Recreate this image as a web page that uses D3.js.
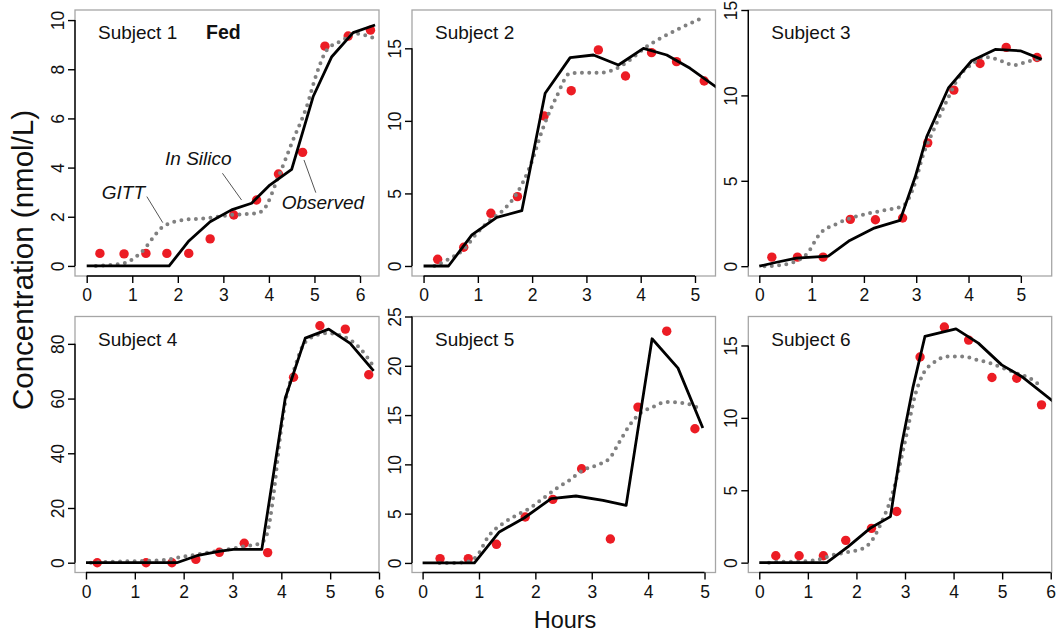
<!DOCTYPE html>
<html>
<head>
<meta charset="utf-8">
<script src="https://cdn.jsdelivr.net/npm/d3@7"></script>
<style>
  body { margin: 0; background: #fff; }
  svg text { font-family: "Liberation Sans", Arial, Helvetica, sans-serif; fill: #111; }
</style>
</head>
<body>
<script>
// Subjects and axis setup
const subjects = ["Subject 1", "Subject 2", "Subject 3", "Subject 4", "Subject 5", "Subject 6"];
const xTicks = [[0,1,2,3,4,5,6],[0,1,2,3,4,5],[0,1,2,3,4,5],[0,1,2,3,4,5,6],[0,1,2,3,4,5],[0,1,2,3,4,5,6]];
const yTicks = [[0,2,4,6,8,10],[0,5,10,15],[0,5,10,15],[0,20,40,60,80],[0,5,10,15,20,25],[0,5,10,15]];
const xDomains = [[-0.257,6.417],[-0.213,5.378],[-0.21,5.59],[-0.225,6.0],[-0.188,5.195],[-0.226,6.02]];
const yDomains = [[-0.41,10.41],[-0.69,17.64],[-0.575,15.0],[-3.58,90],[-0.97,25.0],[-0.68,17.0]];

// Observed concentrations [hours, nmol/L]
const obs1 = [[0.29,0.51],[0.82,0.49],[1.30,0.51],[1.76,0.51],[2.24,0.51],[2.71,1.10],[3.23,2.07],[3.73,2.68],[4.21,3.74],[4.74,4.62],[5.23,8.94],[5.74,9.35],[6.23,9.59]];
const obs2 = [[0.26,0.46],[0.74,1.29],[1.24,3.63],[1.73,4.78],[2.22,10.34],[2.72,12.08],[3.22,14.89],[3.72,13.09],[4.20,14.70],[4.66,14.08],[5.17,12.75]];
const obs3 = [[0.24,0.53],[0.73,0.53],[1.22,0.53],[1.74,2.74],[2.22,2.72],[2.74,2.82],[3.22,7.22],[3.72,10.31],[4.22,11.87],[4.72,12.81],[5.31,12.22]];
const obs4 = [[0.23,0],[1.23,0],[1.76,0],[2.25,1.2],[2.73,3.8],[3.24,7.1],[3.72,3.7],[4.25,67.8],[4.79,86.6],[5.31,85.4],[5.79,68.7]];
const obs5 = [[0.31,0.44],[0.81,0.44],[1.31,1.89],[1.82,4.66],[2.31,6.45],[2.82,9.56],[3.33,2.43],[3.82,15.81],[4.33,23.51],[4.83,13.61]];
const obs6 = [[0.34,0.48],[0.82,0.48],[1.32,0.48],[1.78,1.54],[2.31,2.37],[2.83,3.53],[3.31,14.20],[3.81,16.27],[4.31,15.37],[4.79,12.79],[5.30,12.74],[5.81,10.90]];

// In Silico model (solid black)
const silico1 = [[0,0],[1.81,0],[2.23,0.99],[2.71,1.80],[3.18,2.28],[3.62,2.55],[4.02,3.29],[4.50,3.93],[4.97,6.88],[5.38,8.51],[5.85,9.49],[6.33,9.80]];
const silico2 = [[0,0],[0.46,0],[0.89,2.14],[1.35,3.35],[1.81,3.81],[2.24,11.90],[2.70,14.36],[3.13,14.54],[3.59,13.85],[4.05,15.0],[4.48,14.54],[4.91,13.62],[5.40,12.31]];
const silico3 = [[0,0],[0.33,0.23],[0.71,0.47],[1.32,0.59],[1.73,1.51],[2.18,2.21],[2.69,2.68],[2.98,5.22],[3.20,7.57],[3.62,10.46],[4.06,12.03],[4.51,12.69],[4.99,12.61],[5.40,12.11]];
const silico4 = [[0,0],[1.86,0],[2.27,2.56],[2.75,4.27],[3.02,4.88],[3.60,4.88],[4.08,60.1],[4.49,82.1],[4.97,85.4],[5.41,80.2],[5.89,70.1]];
const silico5 = [[0,0],[0.92,0],[1.36,3.14],[1.80,4.56],[2.28,6.52],[2.72,6.79],[3.20,6.35],[3.61,5.84],[4.07,22.74],[4.53,19.76],[4.97,13.68]];
const silico6 = [[0,0],[1.39,0],[1.83,1.11],[2.28,2.37],[2.70,3.18],[2.93,8.13],[3.16,12.05],[3.41,15.62],[4.05,16.15],[4.51,15.16],[4.99,13.66],[5.40,12.86],[6.05,11.13]];

// GITT model (gray dotted)
const gitt1 = [[0.2,0],[0.44,0.03],[0.82,0.11],[1.17,0.51],[1.68,1.60],[2.12,1.87],[2.63,1.94],[3.15,2.07],[3.73,2.14],[3.88,2.28],[4.21,3.63],[4.53,5.12],[4.83,6.48],[5.05,7.83],[5.27,8.78],[5.63,9.19],[5.89,9.46],[6.07,9.40],[6.33,9.25]];
const gitt2 = [[0.2,0],[0.25,0.07],[0.49,0.53],[0.74,1.15],[0.98,2.25],[1.23,3.17],[1.47,3.86],[1.72,5.01],[1.96,6.85],[2.21,9.60],[2.45,11.67],[2.70,13.28],[2.94,13.32],[3.25,13.32],[3.50,13.51],[3.80,14.20],[4.11,15.12],[4.42,15.80],[4.72,16.38],[5.09,17.02]];
const gitt3 = [[0.1,0],[0.33,0.04],[0.65,0.23],[0.91,0.72],[1.16,1.90],[1.48,2.48],[1.80,2.87],[2.12,3.11],[2.44,3.30],[2.76,3.56],[2.95,4.63],[3.14,6.59],[3.33,7.96],[3.59,9.72],[3.84,11.19],[4.09,11.87],[4.29,12.26],[4.48,12.16],[4.67,11.97],[4.86,11.77],[5.11,11.97],[5.37,12.16]];
const gitt4 = [[0.1,0],[0.56,0.37],[1.11,0.61],[1.58,0.98],[1.99,2.2],[2.40,3.4],[2.81,4.6],[3.22,5.9],[3.57,7.1],[3.70,10.1],[3.84,24.8],[3.98,46.7],[4.11,61.3],[4.25,69.9],[4.45,79.6],[4.66,82.7],[4.93,83.9],[5.27,82.7],[5.61,78.4],[5.89,71.7]];
const gitt5 = [[0.3,0],[0.53,0],[0.77,0.10],[0.95,0.61],[1.18,2.80],[1.42,3.99],[1.66,4.83],[1.89,5.51],[2.13,6.52],[2.37,7.53],[2.60,8.38],[2.84,9.39],[3.08,9.90],[3.31,10.57],[3.49,12.26],[3.67,13.95],[3.85,15.14],[4.08,15.81],[4.32,16.32],[4.56,16.25],[4.79,15.98],[4.91,15.64]];
const gitt6 = [[0.2,0],[0.36,0.07],[0.77,0.07],[1.18,0.18],[1.52,0.53],[1.87,0.76],[2.14,0.99],[2.35,1.68],[2.52,2.83],[2.69,4.22],[2.86,6.29],[3.03,8.82],[3.21,11.59],[3.38,13.08],[3.58,13.78],[3.86,14.24],[4.20,14.24],[4.48,14.01],[4.75,13.78],[5.02,13.43],[5.30,13.08],[5.57,12.74],[5.78,12.24]];

const obsData = [obs1, obs2, obs3, obs4, obs5, obs6];
const silicoData = [silico1, silico2, silico3, silico4, silico5, silico6];
const gittData = [gitt1, gitt2, gitt3, gitt4, gitt5, gitt6];

// Panel 1 annotations: text anchor and leader line, in data units
const notes = [
  {label: "GITT", at: [0.33, 2.71], from: [1.32, 2.82], to: [1.67, 1.76]},
  {label: "In Silico", at: [1.72, 4.10], from: [2.98, 3.77], to: [3.40, 2.68]},
  {label: "Observed", at: [4.28, 2.30], from: [4.77, 4.31], to: [5.03, 2.98]}
];

// Layout of the 3x2 grid (pixels)
const colL = [75, 412, 748.3], colR = [379, 715.5, 1051.7];
const rowT = [10, 316.5], rowB = [276, 572.5];

const svg = d3.select("body").append("svg")
    .attr("width", 1056)
    .attr("height", 636);

subjects.forEach(function(name, i) {
    let c = i % 3, r = Math.floor(i / 3);
    let L = colL[c], R = colR[c], T = rowT[r], B = rowB[r];

    let x = d3.scaleLinear().domain(xDomains[i]).range([L, R]);
    let y = d3.scaleLinear().domain(yDomains[i]).range([B, T]);

    let g = svg.append("g");

    g.append("clipPath").attr("id", "clip" + i)
      .append("rect")
        .attr("x", L).attr("y", T)
        .attr("width", R - L).attr("height", B - T);

    // light gray box
    g.append("rect")
        .attr("x", L).attr("y", T)
        .attr("width", R - L).attr("height", B - T)
        .attr("fill", "none")
        .attr("stroke", "#a6a6a6")
        .attr("stroke-width", 1.3);

    // x axis, line only between first and last tick (R style)
    let xt = xTicks[i];
    let xa = g.append("g")
        .attr("transform", "translate(0," + B + ")")
        .call(d3.axisBottom(x).tickValues(xt).tickSize(7).tickSizeOuter(0).tickPadding(6).tickFormat(d3.format("d")));
    xa.select(".domain").attr("d", "M" + x(xt[0]) + ",0H" + x(xt[xt.length - 1]));
    xa.selectAll("path,line").attr("stroke", "#000").attr("stroke-width", 1.4);
    xa.selectAll("text").style("font-size", "17.5px").attr("fill", "#111");

    let yt = yTicks[i];
    let ya = g.append("g")
        .attr("transform", "translate(" + L + ",0)")
        .call(d3.axisLeft(y).tickValues(yt).tickSize(7).tickSizeOuter(0).tickFormat(d3.format("d")));
    ya.select(".domain").attr("d", "M0," + y(yt[0]) + "V" + y(yt[yt.length - 1]));
    ya.selectAll("path,line").attr("stroke", "#000").attr("stroke-width", 1.4);
    ya.selectAll("text")
        .style("font-size", "17.5px")
        .attr("fill", "#111")
        .attr("x", 0).attr("dy", 0)
        .attr("text-anchor", "middle")
        .attr("transform", "translate(-11,0) rotate(-90)");

    let plot = g.append("g").attr("clip-path", "url(#clip" + i + ")");

    plot.selectAll("circle")
      .data(obsData[i])
      .enter().append("circle")
        .attr("cx", d => x(d[0]))
        .attr("cy", d => y(d[1]))
        .attr("r", 4.7)
        .attr("fill", "#ec1c24");

    let smooth = d3.line().x(d => x(d[0])).y(d => y(d[1])).curve(d3.curveMonotoneX);
    plot.append("path")
        .attr("d", smooth(gittData[i]))
        .attr("fill", "none")
        .attr("stroke", "#808080")
        .attr("stroke-width", 4)
        .attr("stroke-linecap", "round")
        .attr("stroke-dasharray", "0 7.3");

    let straight = d3.line().x(d => x(d[0])).y(d => y(d[1]));
    plot.append("path")
        .attr("d", straight(silicoData[i]))
        .attr("fill", "none")
        .attr("stroke", "#000")
        .attr("stroke-width", 2.8)
        .attr("stroke-linejoin", "round");

    g.append("text")
        .attr("x", L + 23)
        .attr("y", T + 29)
        .style("font-size", "19px")
        .text(name);

    if (i === 0) {
        g.append("text")
            .attr("x", 206)
            .attr("y", T + 29)
            .style("font-size", "19.5px")
            .style("font-weight", "bold")
            .text("Fed");

        notes.forEach(function(n) {
            g.append("line")
                .attr("x1", x(n.from[0])).attr("y1", y(n.from[1]))
                .attr("x2", x(n.to[0])).attr("y2", y(n.to[1]))
                .attr("stroke", "#555")
                .attr("stroke-width", 1);
            g.append("text")
                .attr("x", x(n.at[0]))
                .attr("y", y(n.at[1]))
                .style("font-size", "19px")
                .style("font-style", "italic")
                .text(n.label);
        });
    }
});

// shared axis titles
svg.append("text")
    .attr("transform", "translate(33,260) rotate(-90)")
    .attr("text-anchor", "middle")
    .style("font-size", "29.5px")
    .text("Concentration (nmol/L)");

svg.append("text")
    .attr("x", 565)
    .attr("y", 628)
    .attr("text-anchor", "middle")
    .style("font-size", "23.5px")
    .text("Hours");
</script>
</body>
</html>
